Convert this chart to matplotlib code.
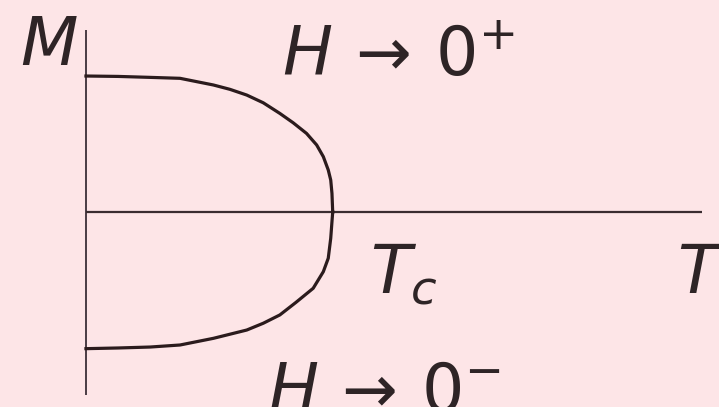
import matplotlib
matplotlib.use("Agg")
import matplotlib.pyplot as plt

plt.rcParams["mathtext.fontset"] = "dejavusans"

# spontaneous magnetisation M(T)/M0 against T/Tc, upper branch (H -> 0+)
t_upper = [0.0, 0.13, 0.26, 0.381, 0.516, 0.583, 0.651, 0.718, 0.785, 0.839,
           0.893, 0.934, 0.961, 0.981, 0.991, 0.996, 0.999]
m_upper = [1.0, 0.997, 0.99, 0.983, 0.934, 0.902, 0.860, 0.803, 0.725, 0.656,
           0.578, 0.493, 0.407, 0.309, 0.235, 0.137, 0.0]

# lower branch (H -> 0-)
t_lower = [0.0, 0.13, 0.26, 0.381, 0.516, 0.651, 0.718, 0.785, 0.850, 0.920,
           0.961, 0.981, 0.991, 0.995, 0.999]
m_lower = [-1.005, -1.0, -0.993, -0.978, -0.929, -0.868, -0.818, -0.757, -0.665, -0.561,
           -0.439, -0.340, -0.193, -0.096, 0.0]

labels = {
    "M": r"$M$",
    "up": r"$H \,\rightarrow\, 0^{+}$",
    "down": r"$H \,\rightarrow\, 0^{-}$",
    "tc": r"$T_c$",
    "t": r"$T$",
}

bg = "#fde5e7"
ink = "#2b1b1d"

fig = plt.figure(figsize=(7.19, 4.07), dpi=100, facecolor=bg)
ax = fig.add_axes([0, 0, 1, 1])
ax.set_facecolor(bg)
ax.set_xlim(-0.348, 2.563)
ax.set_ylim(-1.434, 1.559)
ax.axis("off")

# axes drawn as plain lines
ax.plot([0, 0], [-1.346, 1.338], color="#4a3c44", lw=1.4, solid_capstyle="butt")
ax.plot([0, 2.494], [0, 0], color="#3a2c30", lw=1.6, solid_capstyle="butt")

ax.plot(t_upper, m_upper, color=ink, lw=2.3, solid_joinstyle="round")
ax.plot(t_lower, m_lower, color=ink, lw=2.3, solid_joinstyle="round")

fs = 48
tc = "#2e2426"
ax.text(-0.267, 1.081, labels["M"], fontsize=fs, color=tc, va="baseline", ha="left")
ax.text(0.794, 1.007, labels["up"], fontsize=fs, color=tc, va="baseline", ha="left")
ax.text(1.150, -0.596, labels["tc"], fontsize=fs, color=tc, va="baseline", ha="left")
ax.text(2.393, -0.596, labels["t"], fontsize=fs, color=tc, va="baseline", ha="left")
ax.text(0.737, -1.47, labels["down"], fontsize=fs, color=tc, va="baseline", ha="left")

fig.savefig("out.png", dpi=100, facecolor=bg)
